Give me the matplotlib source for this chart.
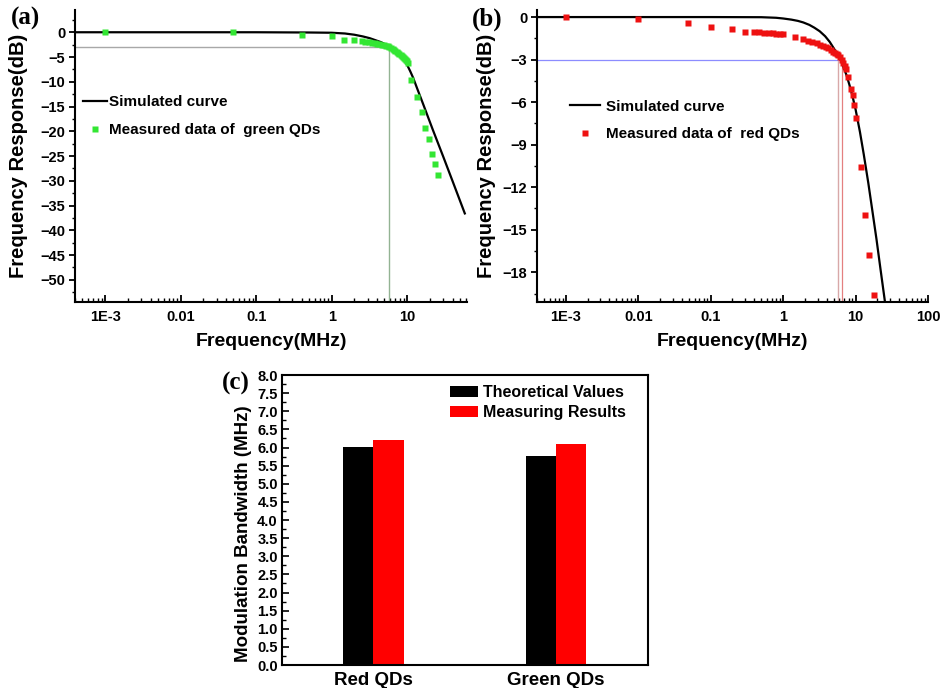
import matplotlib
matplotlib.use("Agg")
import matplotlib.pyplot as plt
from matplotlib.ticker import MultipleLocator, LogLocator, NullFormatter

plt.rcParams['font.family'] = ['Liberation Sans', 'DejaVu Sans']
plt.rcParams['font.weight'] = 'bold'
plt.rcParams['axes.labelweight'] = 'bold'
plt.rcParams['axes.linewidth'] = 1.5

# ---- data ----
# (a) green QDs
sim_a_f = [4e-4, 0.1, 0.5, 1.0, 1.5, 2.0, 2.6, 3.2, 3.8, 4.5, 5.2, 5.9, 6.7, 7.5, 8.2,
           8.85, 10, 11, 12, 14, 16, 22, 30, 40, 58]
sim_a_db = [0, 0, -0.05, -0.1, -0.25, -0.5, -0.85, -1.2, -1.6, -2.0, -2.5, -3.0, -3.6,
            -4.2, -4.75, -5.3, -6.6, -7.9, -9.2, -11.9, -14.2, -19.8, -25.1, -30.1, -36.6]
green_f = [1e-3, 0.05, 0.4, 1.0, 1.45, 1.95, 2.5, 2.8, 3.1, 3.4, 3.7, 4.0, 4.3, 4.6, 4.9,
           5.2, 5.5, 5.8, 6.1, 6.4, 6.7, 7.0, 7.3, 7.6, 7.9, 8.2, 8.5, 8.8, 9.1, 9.4, 9.7,
           10.0, 10.4, 11.4, 13.5, 15.7, 17.4, 19.4, 21.5, 23.2, 25.4]
green_db = [0, 0, -0.5, -0.8, -1.5, -1.6, -1.8, -1.9, -2.0, -2.1, -2.2, -2.3, -2.4, -2.5,
            -2.6, -2.7, -2.8, -2.95, -3.1, -3.3, -3.5, -3.7, -3.9, -4.1, -4.3, -4.5, -4.75,
            -5.0, -5.2, -5.45, -5.7, -5.9, -6.2, -9.7, -13.0, -16.1, -19.3, -21.5, -24.5,
            -26.7, -28.8]
cutoff_a = [5.78]

# (b) red QDs
sim_b_f = [4e-4, 0.1, 0.5, 0.8, 1.0, 1.3, 1.6, 1.9, 2.3, 2.7, 3.2, 3.8, 4.4, 5.0, 5.6,
           6.2, 6.8, 7.5, 8.2, 9.0, 10, 11.5, 13, 15, 17, 19.5, 22, 25.5]
sim_b_db = [0, 0, -0.01, -0.05, -0.1, -0.18, -0.27, -0.38, -0.55, -0.75, -1.0, -1.35,
            -1.75, -2.2, -2.6, -3.0, -3.5, -4.1, -4.75, -5.5, -6.5, -8.1, -9.7, -11.7,
            -13.6, -15.7, -17.7, -20.1]
red_f = [1e-3, 0.01, 0.049, 0.1, 0.198, 0.30, 0.39, 0.47, 0.55, 0.63, 0.72, 0.81, 0.9, 1.0,
         1.46, 1.9, 2.2, 2.47, 2.9, 3.25, 3.58, 3.9, 4.2, 4.55, 4.9, 5.2, 5.5, 5.8, 6.1, 6.4,
         6.8, 7.1, 7.5, 7.9, 8.6, 9.1, 9.5, 10.1, 11.8, 13.5, 15.5, 18.0]
red_db = [0, -0.14, -0.45, -0.68, -0.87, -1.04, -1.06, -1.08, -1.1, -1.12, -1.14, -1.17,
          -1.2, -1.22, -1.39, -1.58, -1.66, -1.74, -1.86, -1.95, -2.05, -2.12, -2.2, -2.32,
          -2.45, -2.52, -2.6, -2.7, -2.85, -3.0, -3.27, -3.45, -3.65, -4.26, -5.1, -5.5,
          -6.2, -7.15, -10.56, -13.97, -16.8, -19.6]
cutoff_b = [5.8, 6.45]

# (c) bandwidths
groups = ["Red QDs", "Green QDs"]
theoretical = [6.02, 5.78]
measured = [6.2, 6.1]

log_ticks = [1e-3, 0.01, 0.1, 1, 10, 100]
log_labels = ["1E-3", "0.01", "0.1", "1", "10", "100"]

fig = plt.figure(figsize=(9.4, 6.88), dpi=100)


def freq_axes(ax, xmax, ylim, ystep):
    ax.set_xscale('log')
    ax.set_xlim(4e-4, xmax)
    ax.set_ylim(*ylim)
    ax.set_xticks([t for t in log_ticks if t <= xmax])
    ax.set_xticklabels([l for t, l in zip(log_ticks, log_labels) if t <= xmax])
    ax.xaxis.set_minor_locator(LogLocator(base=10, subs=range(2, 10), numticks=20))
    ax.xaxis.set_minor_formatter(NullFormatter())
    ax.yaxis.set_major_locator(MultipleLocator(ystep))
    ax.yaxis.set_minor_locator(MultipleLocator(ystep / 2))
    ax.spines['top'].set_visible(False)
    ax.spines['right'].set_visible(False)
    ax.tick_params(axis='x', which='major', direction='in', length=5, width=1.3,
                   labelsize=10.5, pad=6)
    ax.tick_params(axis='x', which='minor', direction='in', length=3, width=1.0)
    ax.tick_params(axis='y', which='major', direction='out', length=4, width=1.3,
                   labelsize=10.5, pad=3)
    ax.tick_params(axis='y', which='minor', direction='out', length=2.5, width=1.0)
    ax.set_xlabel("Frequency(MHz)", fontsize=14, labelpad=2)
    ax.set_ylabel("Frequency Response(dB)", fontsize=14.5, labelpad=2)


# ---- (a) ----
ax_a = fig.add_axes([0.0798, 0.561, 0.417, 0.4245])
freq_axes(ax_a, 62, (-54.5, 4.5), 5)
ax_a.hlines(-3, 4e-4, cutoff_a[0], color='#a8a8a8', lw=1.0)
ax_a.vlines(cutoff_a, -54.5, -3, color='#93b393', lw=1.0)
ax_a.plot(sim_a_f, sim_a_db, color='black', lw=1.6, label='Simulated curve')
ax_a.plot(green_f, green_db, 's', color='#33e633', ms=4, mec='none',
          label='Measured data of  green QDs')
ax_a.legend(loc='upper left', bbox_to_anchor=(0.02, 0.708), frameon=False, fontsize=11,
            handlelength=1.6, handletextpad=0.1, labelspacing=0.9, numpoints=1,
            borderpad=0, borderaxespad=0)
ax_a.yaxis.set_label_coords(-0.12, 0.5)
ax_a.xaxis.set_label_coords(0.5, -0.105)

# ---- (b) ----
ax_b = fig.add_axes([0.5713, 0.561, 0.4159, 0.4245])
freq_axes(ax_b, 100, (-20.1, 0.5), 3)
ax_b.hlines(-3, 4e-4, cutoff_b[1], color='#8c8cff', lw=0.9)
ax_b.vlines(cutoff_b[0], -20.1, -3, color='#d8a8a8', lw=1.0)
ax_b.vlines(cutoff_b[1], -20.1, -3, color='#e48080', lw=0.9)
ax_b.plot(sim_b_f, sim_b_db, color='black', lw=1.6, label='Simulated curve')
ax_b.plot(red_f, red_db, 's', color='#ee1111', ms=4, mec='none',
          label='Measured data of  red QDs')
ax_b.legend(loc='upper left', bbox_to_anchor=(0.084, 0.693), frameon=False, fontsize=11,
            handlelength=2.0, handletextpad=0.35, labelspacing=0.9, numpoints=1,
            borderpad=0, borderaxespad=0)
ax_b.yaxis.set_label_coords(-0.105, 0.5)
ax_b.xaxis.set_label_coords(0.5, -0.105)

# ---- (c) ----
ax_c = fig.add_axes([0.300, 0.0334, 0.389, 0.4215])
xpos = range(len(groups))
w = 0.165
ax_c.bar([x - w / 2 for x in xpos], theoretical, width=w, color='black',
         label='Theoretical Values')
ax_c.bar([x + w / 2 for x in xpos], measured, width=w, color='#ff0000',
         label='Measuring Results')
ax_c.set_xlim(-0.5, 1.5)
ax_c.set_ylim(0, 8)
ax_c.set_xticks(list(xpos))
ax_c.set_xticklabels(groups, fontsize=13.5)
ax_c.yaxis.set_major_locator(MultipleLocator(0.5))
ax_c.yaxis.set_minor_locator(MultipleLocator(0.25))
ax_c.yaxis.set_major_formatter(plt.FormatStrFormatter('%.1f'))
ax_c.tick_params(axis='x', length=0, pad=5)
ax_c.tick_params(axis='y', which='major', direction='in', length=5, width=1.2,
                 labelsize=10.5, pad=3)
ax_c.tick_params(axis='y', which='minor', direction='in', length=3, width=1.0)
ax_c.set_ylabel("Modulation Bandwidth (MHz)", fontsize=13.5)
ax_c.yaxis.set_label_coords(-0.082, 0.452)
ax_c.legend(loc='upper left', bbox_to_anchor=(0.459, 0.965), frameon=False, fontsize=11.5,
            handlelength=1.75, handleheight=0.75, handletextpad=0.3, labelspacing=0.3,
            borderpad=0, borderaxespad=0)

# panel labels
for txt, x, y in [("(a)", 25, 18), ("(b)", 487, 19), ("(c)", 236, 383)]:
    fig.text(x / 940, 1 - y / 688, txt, family=['Liberation Serif', 'DejaVu Serif'],
             fontsize=18, fontweight='bold', ha='center', va='center')

fig.savefig("out.png", dpi=100)
